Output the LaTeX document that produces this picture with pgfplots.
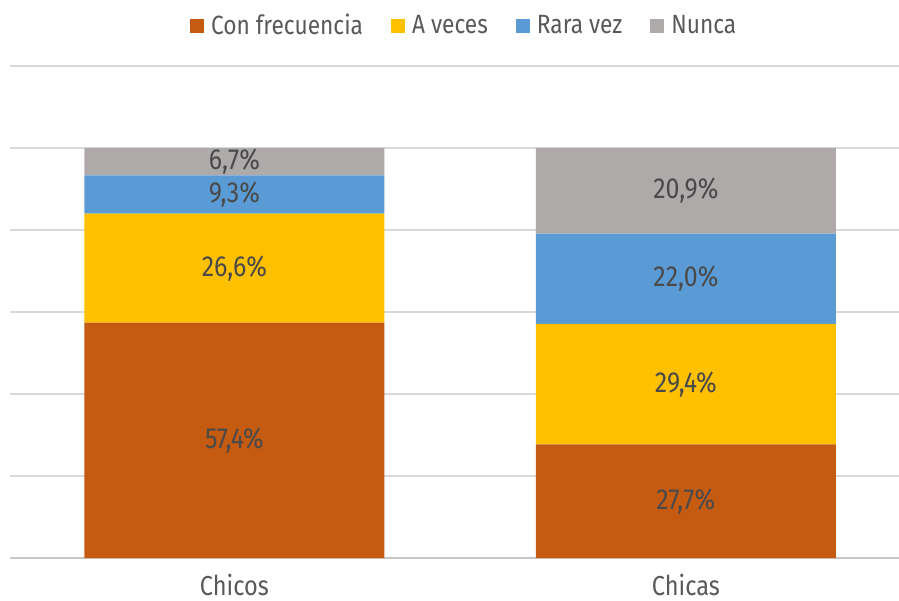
\documentclass[border=0pt]{standalone}
\usepackage{pgfplots}
\pgfplotsset{compat=1.18}
\usepackage{fontspec}
\setmainfont{Fira Sans}[FakeStretch=0.86]
\definecolor{cOrange}{HTML}{C55A11}
\definecolor{cYellow}{HTML}{FFC000}
\definecolor{cBlue}{HTML}{5B9BD5}
\definecolor{cGray}{HTML}{AEAAAA}
\definecolor{cGrid}{HTML}{D9D9D9}
\definecolor{cText}{HTML}{4A4A4A}
\definecolor{cLeg}{HTML}{595959}
\begin{document}
\begin{tikzpicture}
\pgfplotsset{
  base/.style={
    scale only axis, width=444.5pt, height=246pt,
    xmin=-0.497, xmax=1.472, ymin=0, ymax=120,
    axis y line*=left, y axis line style={draw=none},
    axis x line*=bottom,
    x axis line style={draw=cGrid!80!gray, line width=0.8pt, -},
    xtick={0,1}, xticklabels={Chicos,Chicas},
    xtick style={draw=none}, ytick style={draw=none},
    ytick={0,20,...,120}, yticklabels={},
    ticklabel style={font=\fontsize{13.7}{15}\selectfont, text=cLeg},
    xticklabel style={yshift=-4.5pt},
  }
}
\begin{axis}[base,
  ybar stacked, bar width=150pt,
  ymajorgrids, grid style={cGrid, line width=0.6pt},
  legend style={at={(0.512,1.0)}, anchor=south, yshift=10pt, draw=none, fill=none,
    legend columns=4, font=\fontsize{13.2}{15}\selectfont, text=cLeg,
    /tikz/every odd column/.append style={column sep=1.5pt},
    /tikz/every even column/.append style={column sep=12pt}},
  legend image code/.code={\fill[#1] (0pt,-3.5pt) rectangle (7pt,3.5pt);},
]
\addplot[fill=cOrange, draw=none] coordinates {(0,57.4) (1,27.7)};
\addlegendentry{Con frecuencia}
\addplot[fill=cYellow, draw=none] coordinates {(0,26.6) (1,29.4)};
\addlegendentry{A veces}
\addplot[fill=cBlue, draw=none] coordinates {(0,9.3) (1,22.0)};
\addlegendentry{Rara vez}
\addplot[fill=cGray, draw=none] coordinates {(0,6.7) (1,20.9)};
\addlegendentry{Nunca}
\end{axis}
\begin{axis}[base, axis x line=none, axis y line=none, xtick=\empty, ytick=\empty]
\addplot[only marks, mark=none, point meta=explicit symbolic,
  nodes near coords, nodes near coords align={center},
  every node near coord/.append style={anchor=center, font=\fontsize{14.5}{16}\selectfont, text=cText}]
  coordinates {
    (0,28.7)[57,4\%] (0,70.7)[26,6\%] (0,88.65)[9,3\%] (0,96.65)[6,7\%]
    (1,13.85)[27,7\%] (1,42.4)[29,4\%] (1,68.1)[22,0\%] (1,89.55)[20,9\%]
  };
\end{axis}
\pgfresetboundingbox
\useasboundingbox (current axis.south west) ++(-5pt,-21pt) rectangle ([yshift=33pt]current axis.north east);
\end{tikzpicture}
\end{document}
